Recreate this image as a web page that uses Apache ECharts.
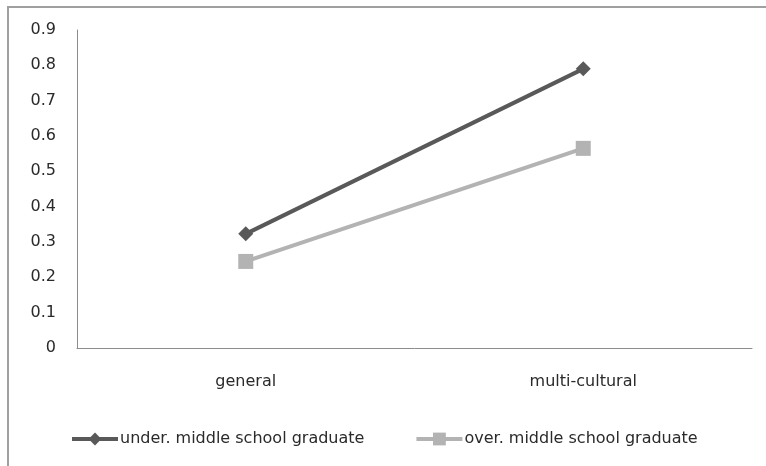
<!DOCTYPE html>
<html>
<head>
<meta charset="utf-8">
<script src="https://cdn.jsdelivr.net/npm/echarts@6/dist/echarts.min.js"></script>
<style>
  html, body { margin: 0; padding: 0; background: #fff; }
  #main { position: absolute; left: 7px; top: 6px; width: 759px; height: 460px; border-left: 2px solid #a0a0a0; border-top: 2px solid #a0a0a0; box-sizing: border-box; }
</style>
</head>
<body>
<div id="main"></div>
<script>
// 类别和数据
var categories = ['general', 'multi-cultural'];
var seriesNames = ['under. middle school graduate', 'over. middle school graduate'];
var underValues = [0.323, 0.79];
var overValues = [0.245, 0.565];
var yTicks = { min: 0, max: 0.9, interval: 0.1 };

var chart = echarts.init(document.getElementById('main'));
var font = 'DejaVu Sans';
var option = {
  animation: false,
  grid: { left: 68, top: 22, right: 14, bottom: 118 },
  legend: {
    left: 56, bottom: 14,
    itemWidth: 46, itemHeight: 16, itemGap: 50,
    lineStyle: { width: 4 },
    textStyle: { fontFamily: font, fontSize: 16, color: '#2a2a2a', padding: [0, 0, 0, -3] },
    data: seriesNames
  },
  xAxis: {
    type: 'category',
    data: categories,
    boundaryGap: true,
    axisLine: { lineStyle: { color: '#8c8c8c', width: 1 } },
    axisTick: { show: false },
    axisLabel: { fontFamily: font, fontSize: 16, color: '#2a2a2a', margin: 26 }
  },
  yAxis: {
    type: 'value',
    min: yTicks.min, max: yTicks.max, interval: yTicks.interval,
    axisLine: { show: true, lineStyle: { color: '#8c8c8c', width: 1 } },
    axisTick: { show: false },
    splitLine: { show: false },
    axisLabel: { fontFamily: font, fontSize: 16, color: '#2a2a2a', margin: 21,
      formatter: function (v) { return Math.round(v * 10) / 10 + ''; } }
  },
  series: [
    {
      name: seriesNames[0], type: 'line', data: underValues,
      symbol: 'diamond', symbolSize: 15,
      lineStyle: { color: '#595959', width: 4 },
      itemStyle: { color: '#595959' }
    },
    {
      name: seriesNames[1], type: 'line', data: overValues,
      symbol: 'rect', symbolSize: 15,
      lineStyle: { color: '#b3b3b3', width: 4 },
      itemStyle: { color: '#b3b3b3' }
    }
  ]
};
chart.setOption(option);
</script>
</body>
</html>
